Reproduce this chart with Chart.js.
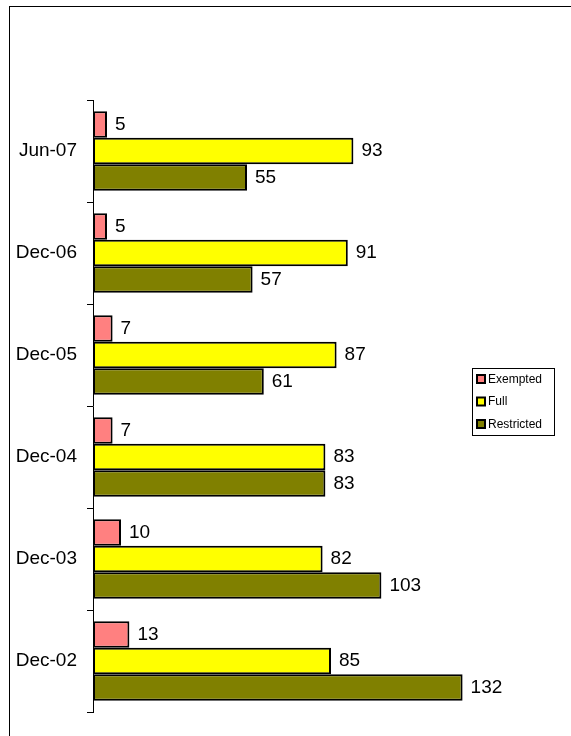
<!DOCTYPE html>
<html>
<head>
<meta charset="utf-8">
<script src="https://cdn.jsdelivr.net/npm/chart.js@4/dist/chart.umd.min.js"></script>
<style>
html,body{margin:0;padding:0;background:#fff;}
canvas{display:block;}
</style>
</head>
<body>
<canvas id="c" width="571" height="736"></canvas>
<script>
const categories = ["Jun-07", "Dec-06", "Dec-05", "Dec-04", "Dec-03", "Dec-02"];
const exempted = [5, 5, 7, 7, 10, 13];
const full = [93, 91, 87, 83, 82, 85];
const restricted = [55, 57, 61, 83, 103, 132];
const seriesNames = ["Exempted", "Full", "Restricted"];
const seriesColors = ["#FF8080", "#FFFF00", "#808000"];

const FONT = "'Liberation Sans', Arial, sans-serif";

const frame = {
  id: 'frame',
  beforeDraw(chart) {
    const ctx = chart.ctx;
    ctx.save();
    ctx.fillStyle = '#fff';
    ctx.fillRect(0, 0, chart.width, chart.height);
    ctx.strokeStyle = '#000';
    ctx.lineWidth = 1;
    ctx.strokeRect(9.5, 6.5, 700, 900);
    ctx.restore();
  }
};

const valueLabels = {
  id: 'valueLabels',
  afterDatasetsDraw(chart) {
    const ctx = chart.ctx;
    ctx.save();
    ctx.font = "19px " + FONT;
    ctx.fillStyle = '#000';
    ctx.textAlign = 'left';
    ctx.textBaseline = 'middle';
    chart.data.datasets.forEach((ds, di) => {
      const meta = chart.getDatasetMeta(di);
      meta.data.forEach((el, i) => {
        ctx.fillText(String(ds.data[i]), el.x + 8, el.y);
      });
    });
    ctx.restore();
  }
};

const boxLegend = {
  id: 'boxLegend',
  afterDraw(chart) {
    const ctx = chart.ctx;
    ctx.save();
    const x = 472.5, y = 368.5, w = 82, h = 67;
    ctx.strokeStyle = '#000';
    ctx.lineWidth = 1;
    ctx.strokeRect(x, y, w, h);
    ctx.font = "12px " + FONT;
    ctx.textBaseline = 'middle';
    ctx.textAlign = 'left';
    chart.data.datasets.forEach((ds, i) => {
      const cy = 379 + i * 22.5;
      ctx.fillStyle = ds.backgroundColor;
      ctx.fillRect(477, cy - 4, 8, 8);
      ctx.lineWidth = 2;
      ctx.strokeStyle = '#000';
      ctx.strokeRect(477, cy - 4, 8, 8);
      ctx.fillStyle = '#000';
      ctx.fillText(ds.label, 488, cy + 0.5);
    });
    ctx.restore();
  }
};

new Chart(document.getElementById('c'), {
  type: 'bar',
  data: {
    labels: categories,
    datasets: [
      { label: seriesNames[0], data: exempted, backgroundColor: seriesColors[0] },
      { label: seriesNames[1], data: full, backgroundColor: seriesColors[1] },
      { label: seriesNames[2], data: restricted, backgroundColor: seriesColors[2] }
    ].map(d => Object.assign(d, { borderColor: '#000', borderWidth: 2, borderSkipped: false, categoryPercentage: 0.78, barPercentage: 1.0 }))
  },
  options: {
    indexAxis: 'y',
    responsive: false,
    animation: false,
    events: [],
    layout: { padding: { left: 0, top: 100, right: 86, bottom: 24 } },
    plugins: { legend: { display: false }, tooltip: { enabled: false } },
    scales: {
      x: { display: false, min: 0, max: 140 },
      y: {
        type: 'category',
        offset: true,
        grid: { display: true, drawOnChartArea: false, drawTicks: true, tickLength: 6, color: '#000', lineWidth: 1, offset: true },
        border: { display: true, color: '#000', width: 1 },
        ticks: { font: { family: FONT, size: 19 }, color: '#000', padding: 10 },
        afterFit(s) { s.width = 93; }
      }
    }
  },
  plugins: [frame, valueLabels, boxLegend]
});
</script>
</body>
</html>
